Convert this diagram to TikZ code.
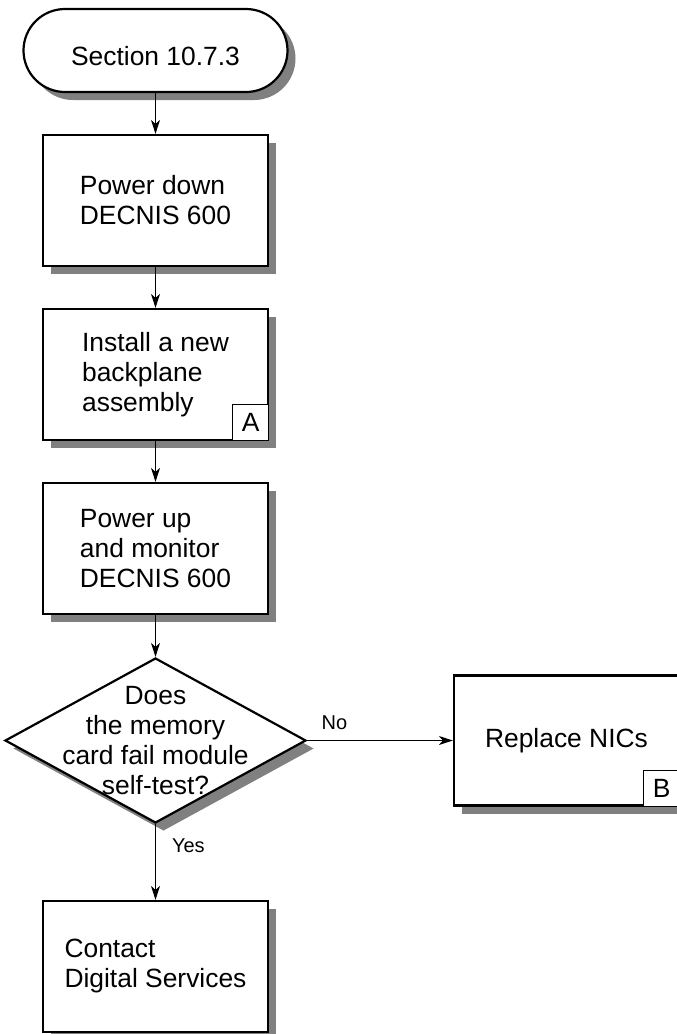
\documentclass[tikz,border=0pt]{standalone}
\usepackage{fontspec}
\setmainfont{Liberation Sans}
\usetikzlibrary{shapes.geometric,shapes.misc,shadows,arrows.meta}
\begin{document}
\begin{tikzpicture}[x=1pt,y=-1pt,
  shad/.style={drop shadow={shadow xshift=8pt,shadow yshift=-8pt,opacity=1,fill=black!50}},
  mainfont/.style={font=\fontsize{26.4}{30}\selectfont},
  procbox/.style={draw,line width=2.2pt,fill=white,shad,minimum width=225pt,minimum height=131pt,align=left,mainfont,inner sep=0pt},
  term/.style={rounded rectangle,draw,line width=2.2pt,fill=white,shad,minimum width=264pt,minimum height=83pt,mainfont,inner sep=0pt},
  decision/.style={diamond,draw,line width=2.2pt,fill=white,shad,minimum width=301pt,minimum height=165pt,inner sep=0pt},
  dtext/.style={align=center,mainfont,inner sep=0pt},
  tag/.style={draw,line width=1pt,fill=white,minimum size=36pt,inner sep=0pt,mainfont},
  lbl/.style={font=\fontsize{20}{24}\selectfont,inner sep=0pt},
  conn/.style={line width=1pt,-{Stealth[length=14pt,width=9pt,inset=4pt]}}
]
\useasboundingbox (0,0) rectangle (677,1034);
\clip (0,0) rectangle (677,1034);

\node[term] (t) at (155.5,50.5) {\raisebox{-14.5pt}[0pt][0pt]{Section 10.7.3}};
\node[procbox] (b1) at (155.5,200.5) {Power down\\DECNIS 600};
\node[procbox] (b2) at (155.5,374.5) {Install a new\\backplane\\assembly};
\node[tag,anchor=south east] (ta) at (b2.south east) {A};
\node[procbox] (b3) at (155.5,548.5) {Power up\\and monitor\\DECNIS 600};
\node[decision] (d) at (155.5,740.5) {};
\node[dtext] (dt) at (d.center) {Does\\the memory\\card fail module\\self-test?};
\node[procbox,minimum height=130pt] (n) at (566.5,740.5) {Replace NICs};
\node[tag,anchor=south east] (tb) at (n.south east) {B};
\node[procbox] (b5) at (155.5,966.5) {Contact\\Digital Services};

\draw[conn] (t.south) -- (b1.north);
\draw[conn] (b1.south) -- (b2.north);
\draw[conn] (b2.south) -- (b3.north);
\draw[conn] (b3.south) -- (d.north);
\draw[conn] (d.east) -- node[lbl,pos=0,anchor=south west,xshift=14pt,yshift=10pt] {No} (n.west);
\draw[conn] (d.south) -- node[lbl,pos=0,anchor=north west,xshift=16pt,yshift=-14pt] {Yes} (b5.north);
\end{tikzpicture}
\end{document}
